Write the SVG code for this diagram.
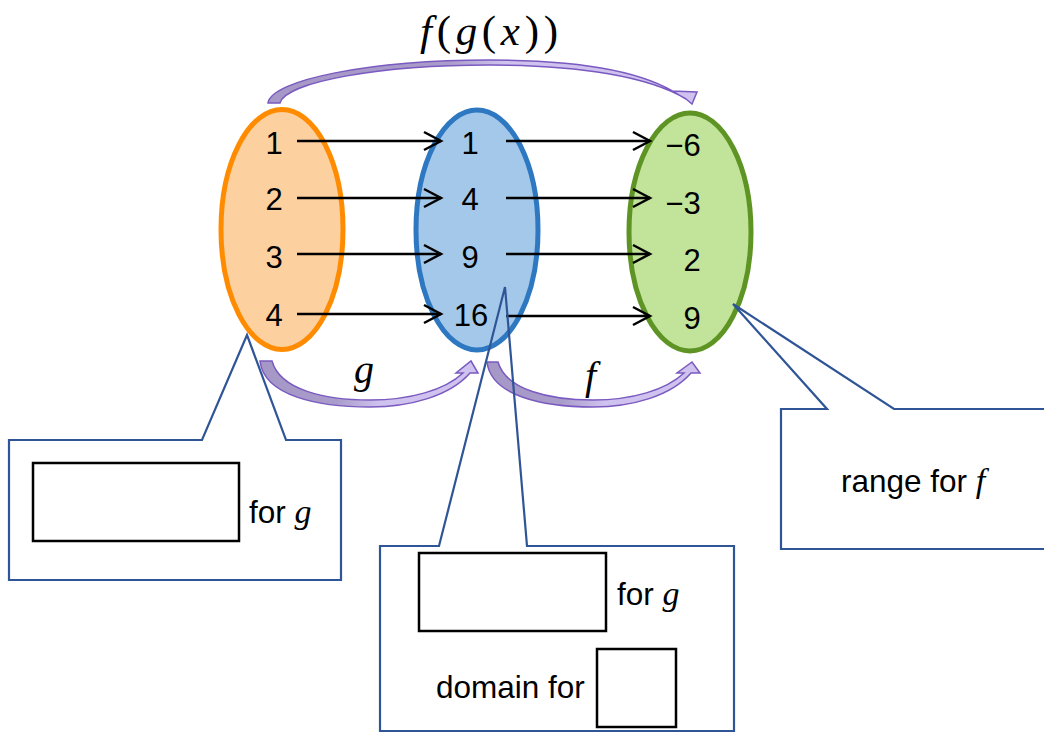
<svg xmlns="http://www.w3.org/2000/svg" width="1044" height="732" viewBox="0 0 1044 732">
<style>
.num{font-family:"Liberation Sans",Arial,sans-serif;font-size:31px;fill:#000;text-anchor:middle}
.lbl{font-family:"Liberation Sans",Arial,sans-serif;font-size:31.5px;fill:#000}
.math{font-family:"Liberation Serif","Times New Roman",serif;font-style:italic}
.mathup{font-family:"Liberation Serif","Times New Roman",serif;font-style:normal}
.conn{stroke:#000;stroke-width:2.5;fill:none;marker-end:url(#chev)}
.callout{fill:none;stroke:#2F5597;stroke-width:2.2;stroke-linejoin:miter}
.blank{fill:#fff;stroke:#000;stroke-width:2.5}
.curve{stroke:#7A5AC0;stroke-width:1.5;stroke-linejoin:miter}
</style>
<defs>
<marker id="chev" markerUnits="userSpaceOnUse" markerWidth="22" markerHeight="22" refX="18" refY="11" orient="auto" overflow="visible">
<path d="M1,2 L18,11 L1,20" fill="none" stroke="#000" stroke-width="2.5"/>
</marker>
<linearGradient id="gTop" gradientUnits="userSpaceOnUse" x1="268" y1="0" x2="697" y2="0">
<stop offset="0" stop-color="#A597C6"/><stop offset="0.42" stop-color="#A99CCA"/><stop offset="0.55" stop-color="#CFC2EE"/><stop offset="1" stop-color="#CFC2EE"/>
</linearGradient>
<linearGradient id="gG" gradientUnits="userSpaceOnUse" x1="260" y1="0" x2="478" y2="0">
<stop offset="0" stop-color="#A597C6"/><stop offset="0.35" stop-color="#A99CCA"/><stop offset="0.55" stop-color="#CFC2EE"/><stop offset="1" stop-color="#CFC2EE"/>
</linearGradient>
<linearGradient id="gF" gradientUnits="userSpaceOnUse" x1="487" y1="0" x2="700" y2="0">
<stop offset="0" stop-color="#A597C6"/><stop offset="0.35" stop-color="#A99CCA"/><stop offset="0.55" stop-color="#CFC2EE"/><stop offset="1" stop-color="#CFC2EE"/>
</linearGradient>
</defs>
<rect width="1044" height="732" fill="#fff"/>

<g id="curved-arrows">
<path class="curve" fill="url(#gTop)" d="M268,103 C271,80 370,60 490,60 C580,60 645,72 679,95 L673,91 L697,92 L692,104 L686,99 C650,77 580,65 490,65 C380,65 285,82 280,103 Z"/>
<path class="curve" fill="url(#gG)" d="M260,361 L272,361 C280,390 325,400 370,400 C410,400 445,390 463,373 L456,373 L471,361 L478,373 L470,373 C450,396 410,407 370,407 C318,407 264,396 260,361 Z"/>
<path class="curve" fill="url(#gF)" d="M487,362 L498,362 C506,390 550,400 593,400 C632,400 666,390 684,373 L677,373 L692,362 L700,373 L691,373 C671,396 632,407 593,407 C543,407 491,396 487,362 Z"/>
</g>

<g id="label-fgx"><text x="420" y="45" font-size="43" textLength="138" lengthAdjust="spacing"><tspan class="math">f</tspan><tspan class="mathup">(</tspan><tspan class="math">g</tspan><tspan class="mathup">(</tspan><tspan class="math">x</tspan><tspan class="mathup">))</tspan></text></g>
<g id="label-g"><text class="math" x="354" y="383" font-size="40">g</text></g>
<g id="label-f"><text class="math" x="585" y="389" font-size="40">f</text></g>

<g id="set-x">
<ellipse cx="282" cy="229.5" rx="61" ry="120" fill="#FDD09F" stroke="#FF8C00" stroke-width="5"/>
<text class="num" x="274" y="154">1</text>
<text class="num" x="274" y="210">2</text>
<text class="num" x="274" y="268">3</text>
<text class="num" x="274" y="326">4</text>
</g>
<g id="set-gx">
<ellipse cx="477" cy="230" rx="61" ry="120" fill="#A4C8EA" stroke="#2E78C2" stroke-width="5"/>
<text class="num" x="470" y="154">1</text>
<text class="num" x="470" y="210">4</text>
<text class="num" x="470" y="268">9</text>
<text class="num" x="471" y="326">16</text>
</g>
<g id="set-fgx">
<ellipse cx="690" cy="232" rx="61" ry="119" fill="#C1E39A" stroke="#5E9424" stroke-width="5"/>
<text class="num" x="683" y="156">−6</text>
<text class="num" x="683" y="214">−3</text>
<text class="num" x="692" y="271">2</text>
<text class="num" x="692" y="329">9</text>
</g>

<g id="connectors">
<line class="conn" x1="297" y1="141" x2="441" y2="141"/>
<line class="conn" x1="297" y1="198" x2="441" y2="198"/>
<line class="conn" x1="297" y1="254" x2="441" y2="254"/>
<line class="conn" x1="297" y1="314" x2="441" y2="314"/>
<line class="conn" x1="506" y1="141" x2="650" y2="141"/>
<line class="conn" x1="506" y1="198" x2="650" y2="198"/>
<line class="conn" x1="506" y1="254" x2="650" y2="254"/>
<line class="conn" x1="506" y1="316" x2="650" y2="316"/>
</g>

<g id="callout-left">
<path class="callout" d="M9,440 L202,440 L247,335 L286,440 L341,440 L341,580 L9,580 Z"/>
<rect class="blank" x="33" y="463" width="206" height="78"/>
<text class="lbl" x="249" y="523">for <tspan class="math" font-size="34">g</tspan></text>
</g>
<g id="callout-middle">
<path class="callout" d="M380,546 L439,546 L505,287 L527,546 L734,546 L734,731 L380,731 Z"/>
<rect class="blank" x="419" y="553" width="187" height="78"/>
<text class="lbl" x="617" y="605">for <tspan class="math" font-size="34">g</tspan></text>
<text class="lbl" x="436" y="698">domain for</text>
<rect class="blank" x="597" y="649" width="79" height="78"/>
</g>
<g id="callout-right">
<path class="callout" d="M781,409 L827,409 L733,304 L894,409 L1050,409 L1050,549 L781,549 Z"/>
<text class="lbl" x="841" y="492">range for <tspan class="math" font-size="34">f</tspan></text>
</g>
</svg>
